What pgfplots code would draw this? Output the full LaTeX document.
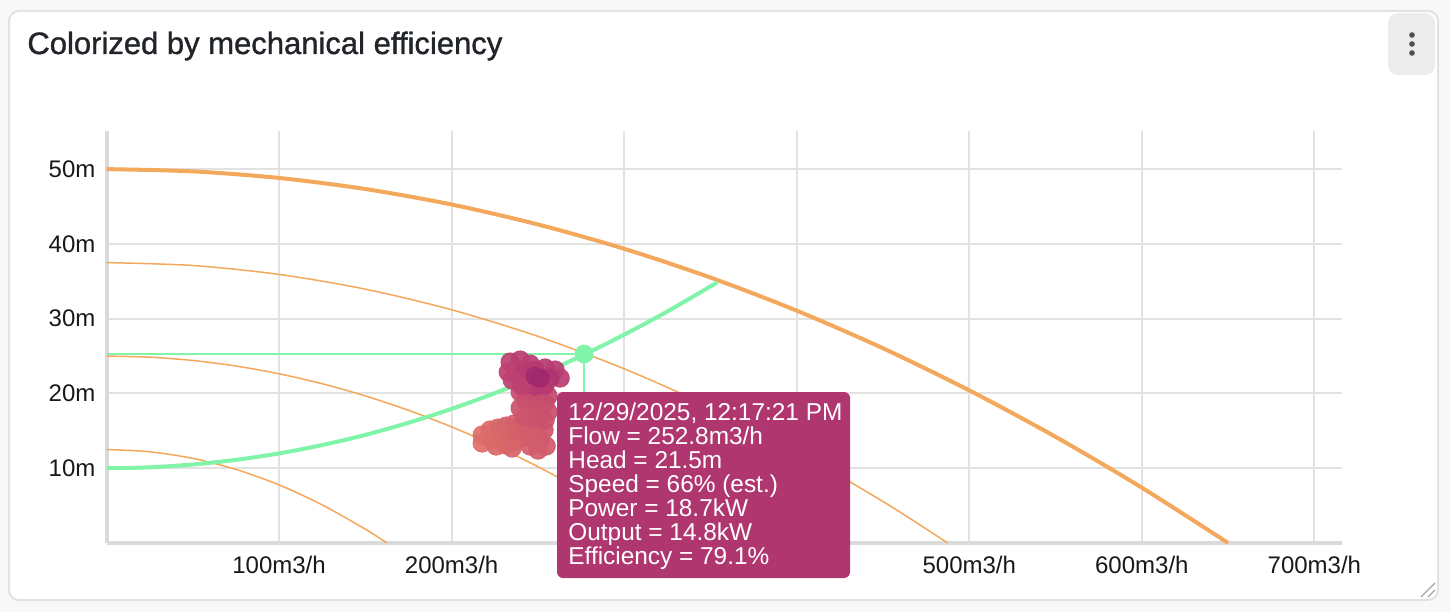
\documentclass[border=0pt]{standalone}
\usepackage{fontspec}
\setmainfont{Liberation Sans}
\newfontfamily\titlefont[FakeBold=1.1]{Liberation Sans}
\usepackage{pgfplots}
\usepackage{pgfplotstable}
\pgfplotsset{compat=1.18}

\definecolor{pagebg}{RGB}{248,248,248}
\definecolor{cardline}{RGB}{226,226,226}
\definecolor{titlecol}{RGB}{33,37,41}
\definecolor{menubg}{RGB}{236,236,236}
\definecolor{menudot}{RGB}{74,79,87}
\definecolor{gridcol}{RGB}{226,226,226}
\definecolor{axiscol}{RGB}{218,218,218}
\definecolor{pumporange}{RGB}{243,168,92}
\definecolor{sysgreen}{RGB}{128,244,168}
\definecolor{tipcol}{RGB}{176,54,112}

% measured operating points: flow (m3/h), head (m), efficiency colour value
\pgfplotstableread{
q     h     m
217.7 14.44 0.05
222.3 15.11 0.08
226.9 15.37 0.12
231.6 15.64 0.18
236.2 15.91 0.22
240.9 15.91 0.28
217.7 13.37 0.05
223.5 13.77 0.08
228.1 14.17 0.12
232.8 14.44 0.15
237.4 14.84 0.20
243.2 15.11 0.25
249.0 15.37 0.30
253.6 15.11 0.33
225.8 12.97 0.10
231.6 13.10 0.12
236.2 13.50 0.18
240.9 14.04 0.22
246.7 14.17 0.25
251.3 13.77 0.28
254.8 12.97 0.30
235.1 12.70 0.15
245.5 12.97 0.22
250.1 12.43 0.25
239.7 20.19 0.45
245.5 20.05 0.50
251.3 19.92 0.50
255.9 19.65 0.48
242.6 19.12 0.42
248.4 18.85 0.45
254.2 18.72 0.45
239.7 18.05 0.38
245.5 17.78 0.40
251.3 17.78 0.40
255.9 17.51 0.40
242.6 16.84 0.33
248.4 16.71 0.36
254.2 16.44 0.38
233.9 24.20 0.62
239.7 24.47 0.65
245.5 23.93 0.65
236.8 23.13 0.62
232.8 22.86 0.60
242.6 22.86 0.70
248.4 23.13 0.72
254.2 23.40 0.70
260.0 23.13 0.68
262.9 22.06 0.65
257.1 22.06 0.80
245.5 21.79 0.75
239.7 21.79 0.65
235.1 21.79 0.60
254.2 21.12 0.70
248.4 20.99 0.70
240.9 20.99 0.60
248.4 22.33 0.95
251.3 22.06 1.00
}\clusterdata

\begin{document}
\begin{tikzpicture}
\path[use as bounding box] (0,0) rectangle (725pt,306pt);

\begin{scope}[x=0.5pt,y=-0.5pt,yshift=306pt]
  \fill[pagebg] (0,0) rectangle (1450,612);
  \draw[cardline, line width=1pt, fill=white, rounded corners=5pt] (9,11) rectangle (1438,600);
  \node[anchor=base west, inner sep=0, text=titlecol,
        font=\titlefont\fontsize{15.5}{18}\selectfont] at (27,54) {Colorized by mechanical efficiency};
  \fill[menubg, rounded corners=5pt] (1388,13) rectangle (1435,75);
  \foreach \yy in {35,44,53} \fill[menudot] (1412,\yy) circle[radius=1.4pt];
  \draw[gray!70, line width=0.6pt] (1421,597) -- (1435,583);
  \draw[gray!70, line width=0.6pt] (1428,597) -- (1435,590);
\end{scope}

\begin{axis}[
    at={(53.25pt,34.5pt)}, anchor=south west,
    scale only axis,
    width=617.75pt, height=206pt,
    xmin=0, xmax=716, ymin=0, ymax=55.1,
    axis lines=left,
    axis line style={-, line width=2pt, draw=axiscol},
    grid=major,
    major grid style={line width=1pt, draw=gridcol},
    major tick length=0pt,
    xtick={100,200,300,400,500,600,700},
    % 300 and 400 are hidden under the tooltip
    xticklabels={100m3/h,200m3/h,,,500m3/h,600m3/h,700m3/h},
    ytick={10,20,30,40,50},
    yticklabels={10m,20m,30m,40m,50m},
    tick label style={font=\fontsize{12}{14}\selectfont, text=black!90},
    xticklabel style={yshift=-3pt},
    yticklabel style={xshift=-2pt},
    clip=true,
]
% pump curves at 100, 87, 71 and 50 % speed
\addplot[pumporange, line width=2pt, smooth] coordinates {
  (0,50) (50,49.70) (100,48.82) (150,47.34) (200,45.27) (250,42.60) (300,39.35)
  (350,35.50) (400,31.07) (450,26.04) (500,20.41) (550,14.20) (600,7.40) (650,0)};
\addplot[pumporange, line width=0.75pt, smooth] coordinates {
  (0,37.5) (50,37.11) (100,35.92) (150,33.95) (200,31.19) (250,27.64) (300,23.30)
  (350,18.17) (400,12.25) (450,5.55) (487.5,0)};
\addplot[pumporange, line width=0.75pt, smooth] coordinates {
  (0,25) (25,24.85) (50,24.41) (75,23.67) (100,22.63) (125,21.30) (150,19.67)
  (175,17.75) (200,15.53) (225,13.02) (250,10.21) (275,7.10) (300,3.70) (325,0)};
\addplot[pumporange, line width=0.75pt, smooth] coordinates {
  (0,12.5) (25,12.20) (50,11.32) (75,9.84) (100,7.77) (125,5.10) (150,1.85) (162.5,0)};
% system curve
\addplot[sysgreen, line width=2pt, smooth] coordinates {
  (0,10) (25,10.12) (50,10.50) (75,11.12) (100,11.98) (125,13.10) (150,14.46)
  (175,16.08) (200,17.94) (225,20.04) (250,22.40) (275,25.00) (300,27.86)
  (325,30.96) (354,34.86)};
% measured points
\addplot[scatter, only marks, mark=*, mark size=4.6pt,
    scatter src=explicit, point meta min=0, point meta max=1,
    colormap={eff}{rgb255=(224,114,104) rgb255=(206,86,108) rgb255=(186,60,114) rgb255=(160,40,108)},
    scatter/use mapped color={draw=mapped color, fill=mapped color},
    opacity=0.92]
  table[x=q, y=h, meta=m] {\clusterdata};
% hovered point guides
\addplot[sysgreen, line width=0.75pt] coordinates {(0,25.27) (276.8,25.27)};
\addplot[sysgreen, line width=0.75pt] coordinates {(276.8,25.27) (276.8,0)};
\addplot[sysgreen, only marks, mark=*, mark size=4.5pt, mark options={draw=sysgreen, fill=sysgreen}]
  coordinates {(276.8,25.27)};
\end{axis}

\begin{scope}[x=0.5pt,y=-0.5pt,yshift=306pt]
  \fill[tipcol, rounded corners=3pt] (557,392) rectangle (850,578);
  \foreach \txt [count=\i from 0] in {{12/29/2025, 12:17:21 PM},{Flow = 252.8m3/h},{Head = 21.5m},
      {Speed = 66\% (est.)},{Power = 18.7kW},{Output = 14.8kW},{Efficiency = 79.1\%}}
    \node[anchor=base west, inner sep=0, text=white, font=\fontsize{12.2}{12}\selectfont]
      at (568,420+24*\i) {\txt};
\end{scope}
\end{tikzpicture}
\end{document}
